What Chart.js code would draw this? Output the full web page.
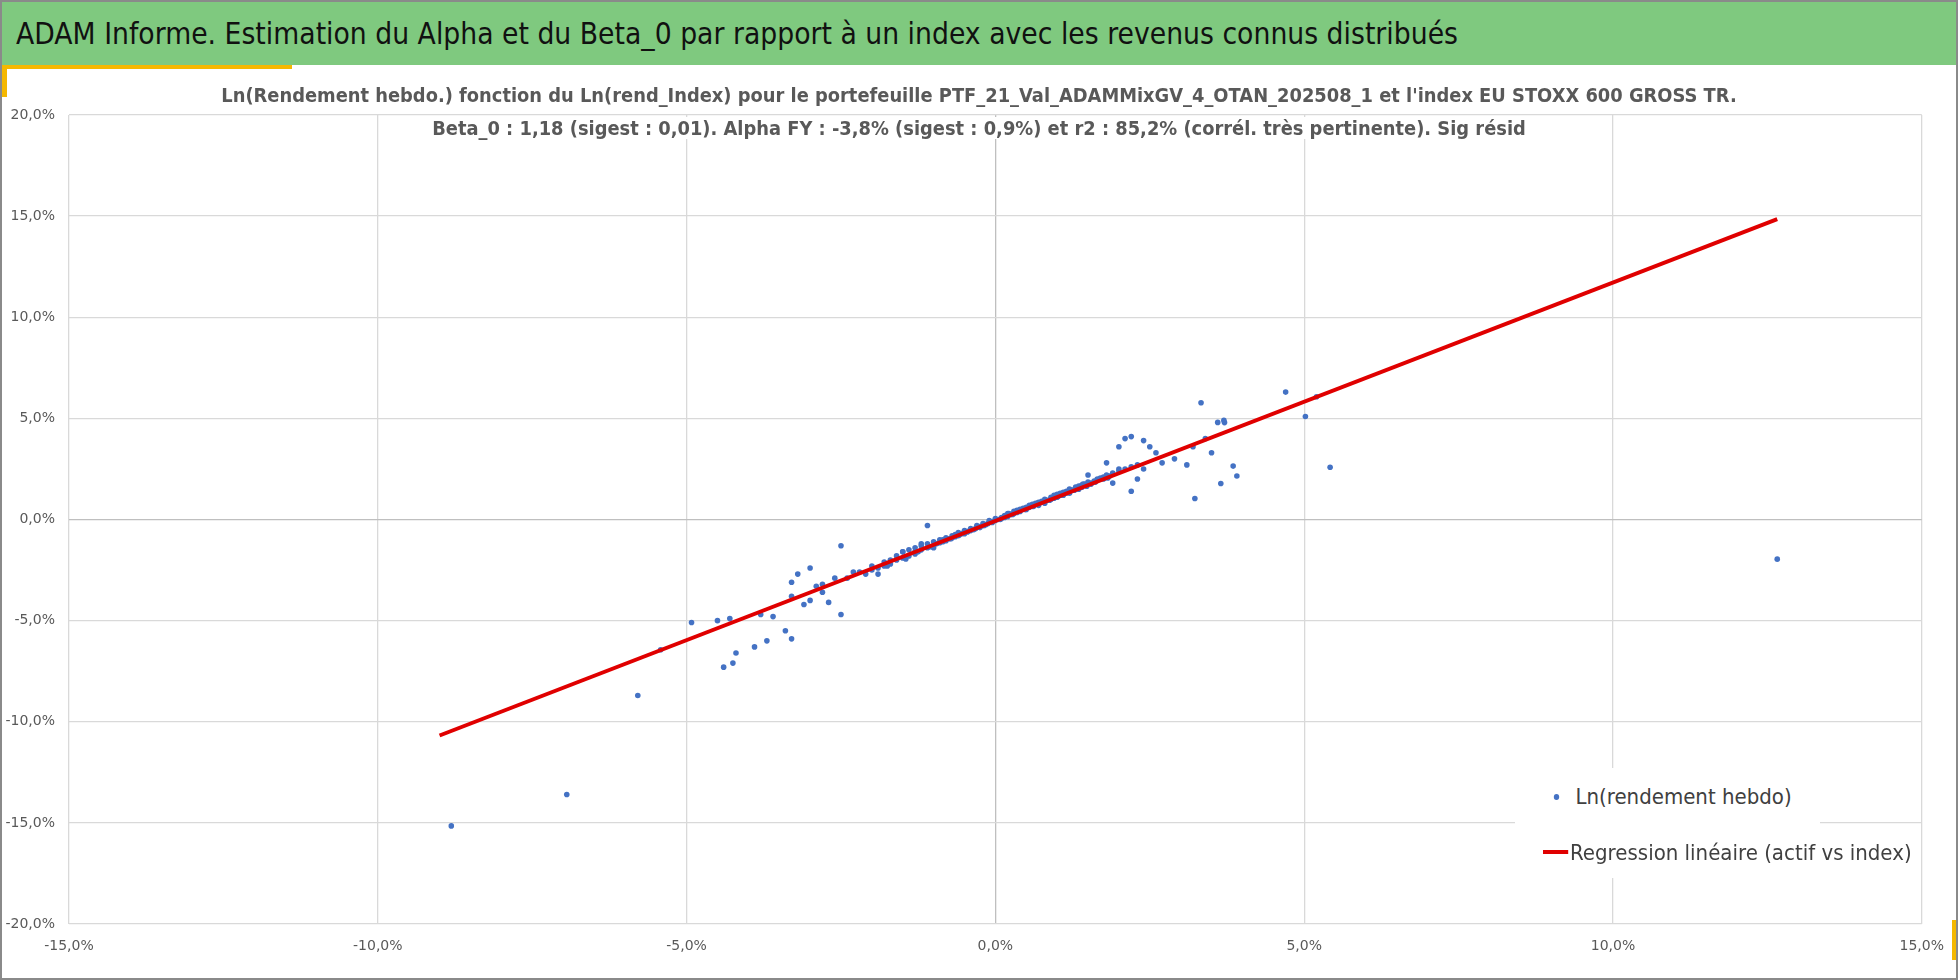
<!DOCTYPE html>
<html><head><meta charset="utf-8">
<script src="https://cdn.jsdelivr.net/npm/chart.js@4"></script>
<style>
body{margin:0;width:1958px;height:980px;overflow:hidden;background:#fff;font-family:"DejaVu Sans",sans-serif;}
#frame{position:absolute;left:0;top:0;width:1954px;height:976px;border:2px solid #8a8a8a;}
#head{position:absolute;left:2px;top:2px;width:1954px;height:63px;background:#7fc97f;}
#head span{position:absolute;left:14px;top:14px;font-size:30px;color:#111;transform:scaleX(0.89);transform-origin:0 0;white-space:nowrap;}
#yel1{position:absolute;left:2px;top:65px;width:290px;height:4px;background:#f5b800;}
#yel2{position:absolute;left:2px;top:65px;width:5px;height:32px;background:#f5b800;}
#yel3{position:absolute;right:2px;top:920px;width:4px;height:40px;background:#f5b800;}
#wrap{position:absolute;left:0;top:66px;width:1958px;height:914px;}
.sub{position:absolute;left:0;width:1958px;text-align:center;color:#595959;font-size:19px;font-weight:bold;transform:scaleX(0.94);}
#legend{position:absolute;left:1515px;top:768px;width:305px;height:110px;background:#fff;color:#404040;font-size:22px;}
.li{position:absolute;left:28px;white-space:nowrap;transform:scaleX(0.9);transform-origin:0 0;}
</style></head><body>
<div id="frame"></div>
<div id="head"><span>ADAM Informe. Estimation du Alpha et du Beta_0 par rapport à un index avec les revenus connus distribués</span></div>
<div id="wrap"><canvas id="c" width="1958" height="914"></canvas></div>
<div id="yel1"></div><div id="yel2"></div><div id="yel3"></div>
<div class="sub" style="top:84px;">Ln(Rendement hebdo.) fonction du Ln(rend_Index) pour le portefeuille PTF_21_Val_ADAMMixGV_4_OTAN_202508_1 et l'index EU STOXX 600 GROSS TR.</div>
<div class="sub" style="top:117px;"><span style="background:#fff;padding:0 4px;">Beta_0 : 1,18 (sigest : 0,01). Alpha FY : -3,8% (sigest : 0,9%) et r2 : 85,2% (corrél. très pertinente). Sig résid</span></div>
<div id="legend">
 <div class="li" style="top:16px;"><span style="display:inline-block;width:6px;height:6px;border-radius:3px;background:#4472c4;margin:0 18px 4px 12px;"></span>Ln(rendement hebdo)</div>
 <div class="li" style="top:72px;"><span style="display:inline-block;width:28px;height:4px;background:#e00000;margin:0 2px 6px 0;"></span>Regression linéaire (actif vs index)</div>
</div>
<script>
// rendements hebdo en % : index (x) et actif (y)
const indexRet = [
-8.81,-6.94,-5.79,12.66,5.42,5.02,5.2,4.7,3.23,3.65,3.85,3.91,3.33,3.71,-5.42,-4.92,
-4.4,-4.25,-4.2,-3.9,-3.7,-3.3,-3.4,-4.5,-4.3,-3.8,-3.6,-3.3,-3.3,-3.2,-3.0,-2.9,-2.8,-3.1,-3.0,-2.7,-2.5,-2.5,-2.2,-2.0,-1.9,-1.7,-1.6,-1.5,-1.3,-1.1,-1.2,-1.0,
1.5,1.8,2.0,2.1,2.2,2.4,2.6,2.3,2.2,2.5,3.2,3.4,3.5,3.1,2.9,3.6,3.7,2.7,2.0,1.9,2.4,
-2.4,-2.3,-2.1,-2.0,-1.9,-1.8,-1.8,-1.7,-1.6,-1.5,-1.5,-1.4,-1.4,-1.3,-1.3,-1.2,-1.2,-1.1,-1.1,-1.0,-1.0,-0.95,-0.9,-0.9,-0.85,-0.8,-0.8,-0.75,-0.7,-0.7,-0.65,-0.6,-0.6,-0.55,-0.5,-0.5,-0.45,-0.4,-0.4,-0.35,-0.3,-0.3,-0.25,-0.2,-0.2,-0.15,-0.1,-0.1,-0.05,0.0,0.0,0.05,0.1,0.1,0.15,0.2,0.2,0.25,0.3,0.3,0.35,0.4,0.4,0.45,0.5,0.5,0.55,0.6,0.6,0.65,0.7,0.7,0.75,0.8,0.8,0.85,0.9,0.9,0.95,1.0,1.0,1.05,1.1,1.1,1.15,1.2,1.2,1.25,1.3,1.3,1.35,1.4,1.4,1.45,1.5,1.55,1.6,1.65,1.7,1.75,1.8,1.85,1.9,2.0,2.1,2.2,2.3,
-1.45,-1.25,-1.05,-0.85,-0.65,-0.45,-0.25,-0.05,0.15,0.35,0.55,0.75,0.95,1.15,1.35,1.55,1.75,-0.72,-0.32,0.08,0.48,0.88,1.28,-0.12,0.22,0.62,1.02,1.42,-0.58,-0.18,0.28,0.68,1.08,1.48,1.62,1.82,-2.6,-2.8,-1.75
];
const actifRet = [
-15.15,-13.6,-8.7,-1.96,2.58,5.09,6.07,6.3,1.04,1.78,2.64,2.15,5.77,4.79,-6.44,-5.09,
-7.3,-7.1,-6.6,-6.3,-6.0,-5.9,-5.5,-5.0,-4.9,-4.7,-4.8,-3.8,-3.1,-2.7,-2.4,-3.3,-3.6,-4.2,-4.0,-4.1,-4.7,-1.3,-2.6,-2.5,-2.7,-2.2,-2.0,-1.6,-1.6,-0.3,-1.2,-1.4,
2.2,2.8,3.6,4.0,4.1,3.9,3.3,2.0,1.4,3.6,3.6,4.0,3.3,2.7,3.0,4.8,4.9,2.8,2.5,1.8,2.5,
-2.9,-2.6,-2.7,-2.3,-2.4,-2.1,-2.3,-2.0,-1.8,-1.9,-1.6,-1.8,-1.5,-1.4,-1.7,-1.5,-1.3,-1.2,-1.4,-1.1,-1.3,-1.2,-1.0,-1.15,-1.0,-0.9,-1.05,-0.95,-0.8,-0.9,-0.75,-0.8,-0.65,-0.7,-0.55,-0.7,-0.6,-0.45,-0.55,-0.5,-0.4,-0.3,-0.35,-0.3,-0.2,-0.25,-0.15,-0.05,-0.1,-0.05,0.05,0.0,0.1,0.05,0.2,0.15,0.3,0.25,0.4,0.3,0.45,0.5,0.4,0.55,0.6,0.5,0.7,0.65,0.75,0.8,0.7,0.85,0.9,0.8,1.0,0.95,1.1,1.0,1.2,1.1,1.25,1.3,1.2,1.35,1.4,1.3,1.5,1.45,1.6,1.55,1.65,1.7,1.6,1.75,1.85,1.8,1.9,2.0,2.05,2.1,2.2,2.15,2.3,2.4,2.5,2.6,2.7,
-1.95,-1.6,-1.35,-1.1,-0.85,-0.6,-0.4,-0.15,0.1,0.35,0.6,0.85,1.05,1.3,1.5,1.75,2.0,-0.95,-0.45,0.0,0.5,0.95,1.45,-0.2,0.3,0.65,1.15,1.75,-0.75,-0.3,0.25,0.8,1.2,1.65,1.85,2.05,-2.9,-3.2,-2.3
];
const regX = [-9.0, 12.66];
const regY = [-10.68, 14.85];

const pts = indexRet.map((x,i)=>({x:x/100,y:actifRet[i]/100}));
const line = regX.map((x,i)=>({x:x/100,y:regY[i]/100}));
const fmt = v => (v*100).toFixed(1).replace('.',',')+'%';
const gridCol = ctx => Math.abs(ctx.tick.value) < 1e-9 ? '#bfbfbf' : '#d9d9d9';
const tickFont = {size:14,family:'DejaVu Sans'};

new Chart(document.getElementById('c'), {
  type:'scatter',
  data:{datasets:[
    {data:line, type:'line', borderColor:'#e00000', borderWidth:4, pointRadius:0, fill:false, order:0},
    {data:pts, backgroundColor:'#4472c4', borderWidth:0, pointRadius:2.8, order:1}
  ]},
  options:{
    responsive:false, animation:false, devicePixelRatio:1,
    layout:{padding:{top:49,right:31,bottom:6,left:0}},
    plugins:{legend:{display:false},tooltip:{enabled:false}},
    scales:{
      x:{min:-0.15,max:0.15,ticks:{stepSize:0.05,callback:fmt,color:'#595959',maxRotation:0,padding:14,font:tickFont},
         grid:{color:gridCol,drawTicks:false,lineWidth:1.3},border:{display:false},
         afterFit:s=>{s.height=50;}},
      y:{min:-0.2,max:0.2,ticks:{stepSize:0.05,callback:fmt,color:'#595959',padding:14,font:tickFont},
         grid:{color:gridCol,drawTicks:false,lineWidth:1.3},border:{display:false},
         afterFit:s=>{s.width=69;}}
    }
  }
});
</script>
</body></html>
